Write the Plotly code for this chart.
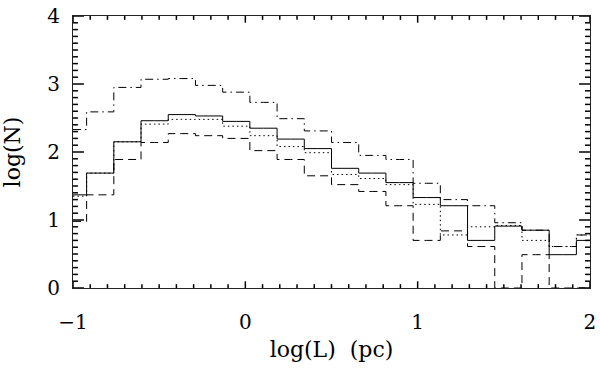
import numpy as np
import plotly.graph_objects as go

# centres des bins en log(L) (20 points de -1 a 2)
logL = np.linspace(-1, 2, 20)

# log(N)
n_solid = [1.37, 1.69, 2.15, 2.46, 2.55, 2.53, 2.45, 2.35, 2.19, 2.05,
           1.76, 1.69, 1.55, 1.33, 1.21, 0.70, 0.91, 0.85, 0.49, 0.70]
n_dotted = [1.35, 1.69, 2.15, 2.41, 2.48, 2.48, 2.38, 2.24, 2.08, 1.99,
            1.67, 1.61, 1.52, 1.23, 0.78, 0.90, 0.92, 0.70, 0.61, 0.78]
n_dashed = [0.98, 1.37, 1.89, 2.14, 2.27, 2.24, 2.20, 2.02, 1.89, 1.65,
            1.52, 1.42, 1.21, 0.70, 0.84, 0.61, 0.0, 0.49, 0.0, 0.0]
n_dashdot = [2.33, 2.59, 2.95, 3.07, 3.08, 2.98, 2.88, 2.73, 2.49, 2.31,
             2.14, 1.95, 1.89, 1.54, 1.30, 1.21, 0.96, 0.85, 0.61, 0.78]

font_serif = "DejaVu Serif"
x_range = [-1, 2.0001]
y_range = [0, 4.0001]

# taille de la zone de trace en pixels (pour la longueur des graduations)
W, H = 520, 284
kx = 3.0 / W
ky = 4.0 / H

fig = go.Figure()
for vals, dash in [(n_solid, "solid"), (n_dotted, "1.5px,3px"),
                   (n_dashed, "8px,5px"), (n_dashdot, "8px,4px,1.5px,4px")]:
    fig.add_trace(go.Scatter(
        x=logL, y=vals, mode="lines", line_shape="hvh",
        line=dict(color="black", width=1, dash=dash),
        showlegend=False, hoverinfo="skip",
    ))

# graduations interieures style IDL (majeures tous les 1, mineures tous les 0.1)
tx, ty = [], []
for v in np.arange(-10, 21) / 10.0:
    L = (7 if v == round(v) else 4) * ky
    tx += [float(v), float(v), None, float(v), float(v), None]
    ty += [0.0, L, None, 4.0, 4.0 - L, None]
for v in np.arange(0, 41) / 10.0:
    L = (11 if v == round(v) else 5) * kx
    tx += [-1.0, -1.0 + L, None, 2.0, 2.0 - L, None]
    ty += [float(v), float(v), None, float(v), float(v), None]
fig.add_trace(go.Scatter(x=tx, y=ty, mode="lines",
                         line=dict(color="black", width=1.5),
                         showlegend=False, hoverinfo="skip",
                         cliponaxis=False))

# trace vide pour les axes qui portent les etiquettes
fig.add_trace(go.Scatter(x=[], y=[], xaxis="x2", yaxis="y2", showlegend=False))

fig.update_layout(
    width=600, height=368,
    margin=dict(l=73, r=7, t=4, b=80),
    plot_bgcolor="white", paper_bgcolor="white",
    font=dict(family=font_serif, color="black", size=20),
    # cadre
    xaxis=dict(
        range=x_range, ticks="", mirror=True, showline=True,
        linecolor="#222", linewidth=1.2,
        showgrid=False, zeroline=False, showticklabels=False,
    ),
    yaxis=dict(
        range=y_range, ticks="", mirror=True, showline=True,
        linecolor="#222", linewidth=1.2,
        showgrid=False, zeroline=False, showticklabels=False,
    ),
    # etiquettes et titres
    xaxis2=dict(
        overlaying="x", side="bottom", range=x_range,
        tickmode="linear", tick0=-1, dtick=1,
        ticks="outside", ticklen=16, tickcolor="rgba(0,0,0,0)",
        showline=False, showgrid=False, zeroline=False,
        ticklabeloverflow="allow",
        title=dict(text="log(L)  (pc)", font=dict(size=22), standoff=8),
    ),
    yaxis2=dict(
        overlaying="y", side="left", range=y_range,
        tickmode="linear", tick0=0, dtick=1,
        ticks="outside", ticklen=8, tickcolor="rgba(0,0,0,0)",
        showline=False, showgrid=False, zeroline=False,
        ticklabeloverflow="allow",
        title=dict(text="log(N)", font=dict(size=22), standoff=20),
    ),
)

# la page a une marge de 8px par defaut : on la retire
fig.write_html("out.html", config={"displayModeBar": False},
               post_script="document.body.style.margin='0';")
